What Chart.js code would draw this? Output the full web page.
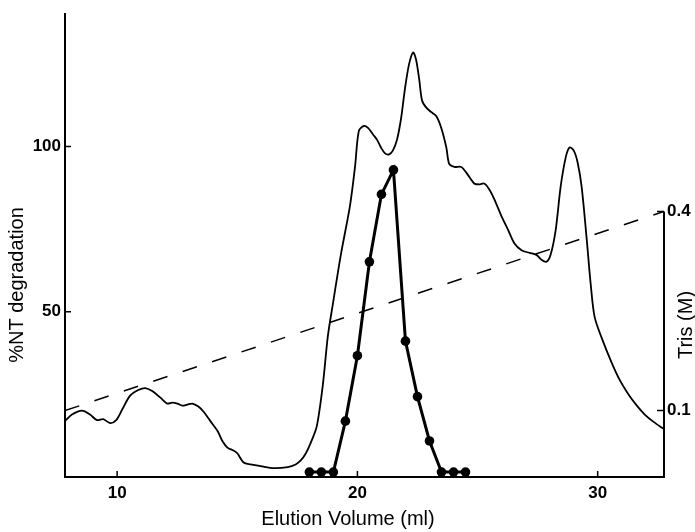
<!DOCTYPE html>
<html><head><meta charset="utf-8">
<script src="https://cdn.jsdelivr.net/npm/chart.js@4/dist/chart.umd.min.js"></script>
<style>html,body{margin:0;padding:0;background:#fff;}#wrap{width:695px;height:532px;}</style>
</head><body><div id="wrap"><canvas id="c" width="695" height="532"></canvas></div>
<script>
// Elution profile (thin line)
const elutionVolume = [7.83,8.12,8.54,8.87,9.16,9.42,9.71,9.96,10.21,10.54,10.88,11.17,11.46,11.80,12.09,12.30,12.51,12.71,12.92,13.13,13.38,13.59,13.88,14.18,14.38,14.59,14.84,15.01,15.26,15.55,15.97,16.51,17.10,17.43,17.64,17.85,18.06,18.31,18.56,18.77,18.98,19.31,19.69,19.90,20.06,20.27,20.44,20.65,20.81,20.98,21.15,21.32,21.48,21.65,21.82,21.98,22.15,22.32,22.44,22.57,22.69,22.86,23.07,23.28,23.49,23.70,23.82,24.03,24.32,24.57,24.86,25.07,25.28,25.49,25.70,25.99,26.28,26.53,26.83,27.16,27.45,27.66,27.87,28.04,28.25,28.46,28.67,28.83,29.00,29.16,29.33,29.54,29.71,29.87,30.17,30.58,30.92,31.29,31.63,31.96,32.34,32.76];
const elutionProfile = [16.9,18.9,20.1,18.9,17.2,17.5,16.3,17.2,20.4,24.6,26.3,26.9,26.0,24.0,22.2,22.5,22.2,21.6,21.9,22.2,21.3,19.8,16.9,13.9,10.9,8.9,8.0,7.1,4.4,3.8,3.3,2.7,3.0,3.8,5.0,7.1,10.4,15.4,27.8,42.6,52.4,67.2,82.0,93.8,104.7,106.2,105.6,103.6,102.1,99.7,97.9,97.6,98.8,102.1,108.6,117.5,124.9,128.4,126.3,120.4,113.9,111.8,110.4,109.2,105.6,99.7,94.7,93.8,93.8,91.7,88.8,88.5,88.8,87.0,84.0,79.0,74.6,70.7,68.6,67.8,67.2,65.7,65.1,67.2,74.6,87.9,96.7,99.7,98.8,95.3,87.9,72.2,58.3,48.5,42.0,34.6,29.3,24.9,21.6,18.9,16.6,14.5];
// %NT degradation per fraction (filled circles)
const fractionVolume = [18.0,18.5,19.0,19.5,20.0,20.5,21.0,21.5,22.0,22.5,23.0,23.5,24.0,24.5];
const ntDegradation = [1.5,1.5,1.5,16.9,36.7,65.1,85.5,92.9,41.1,24.3,10.9,1.5,1.5,1.5];
// Tris gradient (dashed)
const gradientVolume = [7.83,32.76];
const trisMolar = [0.1,0.4];
// Tick labels
const xTicks = [10,20,30];
const leftTicks = [50,100];
const rightTicks = [0.1,0.4];

const toPts = (xs, ys) => xs.map((x,i)=>({x:x, y:ys[i]}));
const tickFont = {family:'"Liberation Sans", Arial, sans-serif', size:17, weight:'bold'};
const titleFont = '20px "Liberation Sans", Arial, sans-serif';

const decor = {
  id:'decor',
  afterDraw(chart){
    const {ctx, chartArea:a, scales} = chart;
    const x = scales.x, y = scales.y, y2 = scales.y2;
    ctx.save();
    ctx.strokeStyle = '#000'; ctx.lineWidth = 2;
    // right axis only up to 0.4
    ctx.beginPath();
    ctx.moveTo(a.right, a.bottom + 1);
    ctx.lineTo(a.right, y2.getPixelForValue(rightTicks[rightTicks.length-1]));
    ctx.stroke();
    ctx.lineWidth = 1.5;
    ctx.beginPath();
    xTicks.forEach(v=>{const p=x.getPixelForValue(v); ctx.moveTo(p,a.bottom); ctx.lineTo(p,a.bottom-6);});
    leftTicks.forEach(v=>{const p=y.getPixelForValue(v); ctx.moveTo(a.left,p); ctx.lineTo(a.left+6,p);});
    rightTicks.forEach(v=>{const p=y2.getPixelForValue(v); ctx.moveTo(a.right,p); ctx.lineTo(a.right-7,p);});
    ctx.stroke();
    // titles
    ctx.fillStyle = '#000';
    ctx.font = titleFont;
    ctx.textAlign = 'center'; ctx.textBaseline = 'middle';
    ctx.fillText('Elution Volume (ml)', 348, 519);
    ctx.save(); ctx.translate(17, 285); ctx.rotate(-Math.PI/2);
    ctx.fillText('%NT degradation', 0, 0); ctx.restore();
    ctx.save(); ctx.translate(686, 325); ctx.rotate(-Math.PI/2);
    ctx.fillText('Tris (M)', 0, 0); ctx.restore();
    ctx.restore();
  }
};

new Chart(document.getElementById('c'), {
  type:'line',
  data:{datasets:[
    {data:toPts(elutionVolume, elutionProfile), yAxisID:'y', borderColor:'#000', borderWidth:1.8, pointRadius:0, tension:0.3, fill:false},
    {data:toPts(fractionVolume, ntDegradation), yAxisID:'y', borderColor:'#000', borderWidth:3, pointRadius:4.8, pointBackgroundColor:'#000', pointBorderColor:'#000', pointBorderWidth:0, tension:0, fill:false},
    {data:toPts(gradientVolume, trisMolar), yAxisID:'y2', borderColor:'#000', borderWidth:1.5, borderDash:[15,16], pointRadius:0, fill:false}
  ]},
  options:{
    responsive:false, animation:false,
    layout:{padding:{top:3,left:0,right:0,bottom:0}},
    plugins:{legend:{display:false}, tooltip:{enabled:false}},
    scales:{
      x:{type:'linear', min:7.83, max:32.76,
         afterBuildTicks:s=>{s.ticks = xTicks.map(v=>({value:v}));},
         afterFit:s=>{s.height = 55;},
         grid:{display:false, drawTicks:false},
         border:{display:true, color:'#000', width:2},
         ticks:{padding:6, color:'#000', font:tickFont, maxRotation:0, callback:v=>String(v)}},
      y:{type:'linear', position:'left', min:0, max:140,
         afterBuildTicks:s=>{s.ticks = leftTicks.map(v=>({value:v}));},
         afterFit:s=>{s.width = 65;},
         grid:{display:false, drawTicks:false},
         border:{display:true, color:'#000', width:2},
         ticks:{padding:4, color:'#000', font:tickFont, callback:v=>String(v)}},
      y2:{type:'linear', position:'right', min:0, max:0.697,
         afterBuildTicks:s=>{s.ticks = rightTicks.map(v=>({value:v}));},
         afterFit:s=>{s.width = 31;},
         grid:{display:false, drawTicks:false},
         border:{display:false},
         ticks:{padding:3, color:'#000', font:tickFont, callback:v=>v.toFixed(1)}}
    }
  },
  plugins:[decor]
});
</script></body></html>
